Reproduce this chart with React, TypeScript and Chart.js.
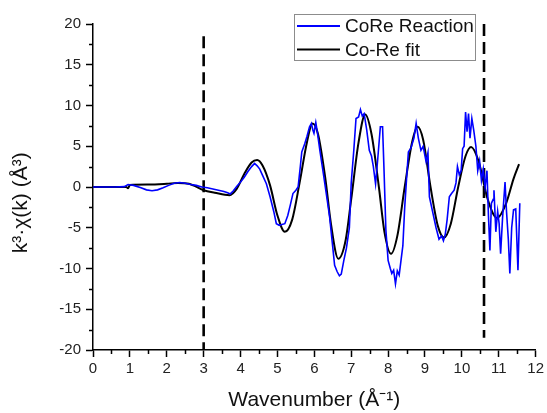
import React, { useEffect, useRef } from 'react';
import { Chart, registerables } from 'chart.js';

Chart.register(...registerables);

// CoRe Reaction (measured) k^3-weighted chi(k)
const reactionK = [
  0, 0.3, 0.6, 0.85, 0.95, 1.1, 1.3, 1.45, 1.6, 1.75, 1.9, 2.05, 2.2, 2.35, 2.5, 2.65, 2.8, 2.95,
  3.1, 3.25, 3.4, 3.55, 3.65, 3.72, 3.8, 3.9, 4.0, 4.1, 4.2, 4.3, 4.38, 4.45, 4.52, 4.6, 4.7, 4.8,
  4.9, 4.97, 5.05, 5.12, 5.2, 5.28, 5.35, 5.42, 5.5, 5.56, 5.62, 5.66, 5.74, 5.8, 5.87, 5.92, 5.96,
  5.99, 6.04, 6.08, 6.15, 6.25, 6.33, 6.41, 6.5, 6.55, 6.62, 6.68, 6.73, 6.8, 6.87, 6.95, 7.0, 7.07,
  7.13, 7.2, 7.25, 7.3, 7.35, 7.42, 7.49, 7.55, 7.6, 7.66, 7.72, 7.79, 7.85, 7.89, 7.94, 8.0, 8.06,
  8.1, 8.15, 8.2, 8.25, 8.3, 8.35, 8.4, 8.45, 8.5, 8.55, 8.62, 8.7, 8.76, 8.82, 8.89, 8.95, 9.03,
  9.08, 9.12, 9.2, 9.3, 9.38, 9.45, 9.5, 9.55, 9.6, 9.66, 9.72, 9.79, 9.84, 9.88, 9.93, 9.98, 10.02,
  10.06, 10.1, 10.14, 10.18, 10.22, 10.27, 10.32, 10.38, 10.43, 10.48, 10.53, 10.58, 10.63, 10.68,
  10.72, 10.76, 10.8, 10.85, 10.87, 10.92, 10.97, 11.01, 11.05, 11.1, 11.17, 11.21, 11.26, 11.3,
  11.35, 11.4, 11.46, 11.52, 11.57,
];
const reactionChi = [
  0, 0.0, 0.0, 0.05, 0.3, 0.2, -0.1, -0.35, -0.45, -0.35, -0.1, 0.2, 0.45, 0.55, 0.45, 0.3, 0.2, 0.0,
  -0.1, -0.25, -0.4, -0.55, -0.7, -0.85, -0.5, 0.1, 0.6, 1.2, 1.9, 2.5, 2.9, 2.6, 2.2, 1.4, 0.4, -1.2,
  -3.0, -4.5, -4.7, -4.6, -4.5, -3.5, -2.2, -0.8, -0.4, 0.0, 2.5, 4.3, 5.3, 6.2, 7.4, 7.8, 7.0,
  6.6, 7.9, 6.8, 4.5, 1.5, -1.0, -3.5, -7.4, -9.6, -10.4, -10.9, -10.7, -9.0, -7.5, -5.0, 0.5, 4.5,
  8.4, 8.6, 9.5, 8.7, 9.0, 7.0, 4.5, 3.8, 2.5, 0.4, 3.5, 7.4, 7.4, 2.0, -5.3, -9.0, -10.0,
  -10.6, -10.2, -11.9, -10.3, -10.8, -9.0, -7.2, -2.5, 1.0, 4.3, 4.8, 6.0, 7.8, 6.0, 4.5, 5.0, 3.1,
  4.2, -1.2, -2.9, -5.0, -6.4, -6.0, -6.6, -5.8, -4.0, -1.2, -0.8, -0.4, 0.5, 2.5, 1.5, 2.0, 4.7,
  5.0, 9.2, 6.8, 9.0, 6.0, 8.4, 7.0, 5.0, 2.0, 3.2, 0.8, 2.2, 0.0, 2.0,
  -3.5, -7.8, -2.0, -1.5, -0.4, -5.5, -3.0, -4.5, -8.2, -4.0, 0.6, -3.0, -6.5, -10.6,
  -5.0, -2.8, -2.7, -10.2, -2.0,
];

// Co-Re fit
const fitK = [
  0, 0.5, 0.9, 0.95, 1.0, 1.5, 2.0, 2.3, 2.6, 3.0, 3.3, 3.7, 3.9, 4.1, 4.3, 4.45, 4.6, 4.8, 5.0,
  5.2, 5.4, 5.6, 5.8, 5.95, 6.1, 6.3, 6.45, 6.65, 6.85, 7.0, 7.2, 7.38, 7.55, 7.75, 7.9, 8.08,
  8.25, 8.45, 8.65, 8.8, 8.95, 9.15, 9.35, 9.52, 9.7, 9.9, 10.1, 10.25, 10.45, 10.7, 10.95, 11.2,
  11.4, 11.55,
];
const fitChi = [
  0, 0, 0, -0.15, 0.25, 0.3, 0.4, 0.5, 0.4, -0.4, -0.7, -1.0, -0.2, 1.6, 3.0, 3.3, 2.6, 0.2, -3.5,
  -5.5, -4.0, 0.5, 5.5, 7.8, 6.5, 1.0, -4.5, -8.8, -6.5, -1.5, 5.5, 8.9, 6.5, 0.0, -5.5, -8.2,
  -6.0, 0.0, 5.5, 7.4, 5.8, 0.0, -4.8, -6.2, -4.5, 0.0, 3.8, 4.9, 3.2, -1.5, -3.8, -2.0,
  1.0, 2.8,
];

// Fit-window markers
const windowK = [3, 10.6];
const windowTop = [18.5, 20];
const windowBottom = [-20, -18.5];

const seriesLabels = ['CoRe Reaction', 'Co-Re fit'];
const seriesColors = ['#0000ff', '#000000'];

const xMinorTicks = [0.5, 1.5, 2.5, 3.5, 4.5, 5.5, 6.5, 7.5, 8.5, 9.5, 10.5, 11.5];
const yMinorTicks = [-17.5, -12.5, -7.5, -2.5, 2.5, 7.5, 12.5, 17.5];

const FONT = "'Liberation Sans', Arial, sans-serif";

const minorTickPlugin = {
  id: 'minorTicks',
  afterDraw(chart: any) {
    const { ctx, chartArea, scales } = chart;
    ctx.save();
    ctx.strokeStyle = '#000';
    ctx.lineWidth = 1.5;
    ctx.beginPath();
    for (const v of xMinorTicks) {
      const px = Math.round(scales.x.getPixelForValue(v)) + 0.5;
      ctx.moveTo(px, chartArea.bottom);
      ctx.lineTo(px, chartArea.bottom + 4);
    }
    for (const v of yMinorTicks) {
      const py = Math.round(scales.y.getPixelForValue(v)) + 0.5;
      ctx.moveTo(chartArea.left, py);
      ctx.lineTo(chartArea.left - 4, py);
    }
    ctx.stroke();
    ctx.restore();
  },
};

const legendPlugin = {
  id: 'boxLegend',
  afterDraw(chart: any) {
    const { ctx } = chart;
    const bx = 294, by = 14, bw = 181, bh = 46;
    ctx.save();
    ctx.fillStyle = '#fff';
    ctx.fillRect(bx, by, bw, bh);
    ctx.strokeStyle = '#8c8c8c';
    ctx.lineWidth = 1;
    ctx.strokeRect(bx + 0.5, by + 0.5, bw, bh);
    ctx.font = `19px ${FONT}`;
    ctx.textBaseline = 'middle';
    ctx.textAlign = 'left';
    seriesLabels.forEach((label, i) => {
      const cy = by + 12 + i * 23.5;
      ctx.strokeStyle = seriesColors[i];
      ctx.lineWidth = 2;
      ctx.beginPath();
      ctx.moveTo(bx + 3, cy);
      ctx.lineTo(bx + 46, cy);
      ctx.stroke();
      ctx.fillStyle = '#111';
      ctx.fillText(label, bx + 51, cy + 1);
    });
    ctx.restore();
  },
};

export default function App() {
  const canvasRef = useRef<HTMLCanvasElement | null>(null);

  useEffect(() => {
    if (!canvasRef.current) return;
    const reaction = reactionK.map((k, i) => ({ x: k, y: reactionChi[i] }));
    const fit = fitK.map((k, i) => ({ x: k, y: fitChi[i] }));
    const markers = windowK.map((k, i) => ({
      label: '',
      data: [
        { x: k, y: windowTop[i] },
        { x: k, y: windowBottom[i] },
      ],
      borderColor: '#000',
      borderWidth: 2.6,
      borderDash: [12, 6],
      pointRadius: 0,
      fill: false,
    }));

    const chart = new Chart(canvasRef.current, {
      type: 'line',
      data: {
        datasets: [
          {
            label: seriesLabels[0],
            data: reaction,
            borderColor: seriesColors[0],
            borderWidth: 1.6,
            pointRadius: 0,
            tension: 0,
            fill: false,
          },
          {
            label: seriesLabels[1],
            data: fit,
            borderColor: seriesColors[1],
            borderWidth: 2,
            pointRadius: 0,
            cubicInterpolationMode: 'monotone',
            fill: false,
          },
          ...markers,
        ] as any,
      },
      options: {
        animation: false,
        responsive: true,
        maintainAspectRatio: false,
        layout: { padding: { left: 0, right: 10, top: 24, bottom: 0 } },
        plugins: {
          legend: { display: false },
          tooltip: { enabled: false },
        },
        scales: {
          x: {
            type: 'linear',
            min: 0,
            max: 12,
            ticks: {
              stepSize: 1,
              color: '#222',
              font: { family: FONT, size: 15 },
              padding: 3,
              maxRotation: 0,
            },
            grid: {
              drawOnChartArea: false,
              drawTicks: true,
              tickLength: 7,
              tickWidth: 1.5,
              tickColor: '#000',
            },
            border: { color: '#000', width: 1.5 },
            title: {
              display: true,
              text: 'Wavenumber (Å⁻¹)',
              color: '#111',
              font: { family: FONT, size: 21 },
              padding: 0,
            },
            afterFit: (scale: any) => {
              scale.height = 63;
            },
          },
          y: {
            type: 'linear',
            min: -20,
            max: 20,
            ticks: {
              stepSize: 5,
              color: '#222',
              font: { family: FONT, size: 15 },
              padding: 5,
            },
            grid: {
              drawOnChartArea: false,
              drawTicks: true,
              tickLength: 7,
              tickWidth: 1.5,
              tickColor: '#000',
            },
            border: { color: '#000', width: 1.5 },
            title: {
              display: true,
              text: 'k³·χ(k) (Å³)\u2002\u2002\u2002',
              color: '#111',
              font: { family: FONT, size: 21 },
              padding: { top: 9, bottom: 0 },
            },
            afterFit: (scale: any) => {
              scale.width = 93;
            },
          },
        },
      },
      plugins: [minorTickPlugin, legendPlugin],
    });

    return () => chart.destroy();
  }, []);

  return (
    <div style={{ position: 'fixed', left: 0, top: 0, width: 547, height: 413, background: '#fff' }}>
      <canvas ref={canvasRef} />
    </div>
  );
}
